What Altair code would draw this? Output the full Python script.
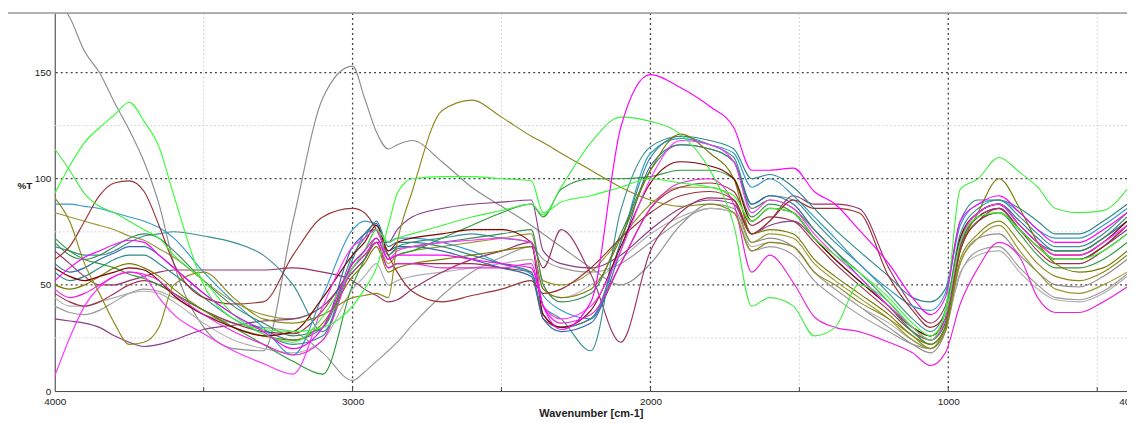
import altair as alt
import pandas as pd

# wavenumber grid (cm-1)
WN = [4000, 3950, 3900, 3850, 3800, 3750, 3700, 3650, 3600, 3500,
      3400, 3300, 3200, 3100, 3000, 2960, 2920, 2880, 2850, 2800,
      2700, 2600, 2500, 2400, 2360, 2300, 2200, 2100, 2000, 1900,
      1800, 1720, 1660, 1600, 1520, 1450, 1380, 1300, 1200, 1120,
      1060, 1010, 960, 900, 830, 760, 700, 640, 560, 480,
      400]

gray_a = [185, 176, 160, 150, 136, 123, 108, 88, 60, 30,
          20, 19, 80, 138, 153, 138, 122, 114, 116, 118,
          108, 96, 87, 78, 74, 68, 58, 50, 60, 78,
          88, 86, 70, 72, 68, 56, 48, 40, 30, 22,
          18, 28, 60, 72, 74, 64, 56, 50, 49, 54,
          62]
gray_b = [40, 37, 36, 38, 42, 46, 48, 47, 44, 36,
          32, 30, 28, 18, 5, 9, 14, 19, 23, 31,
          45, 56, 63, 68, 62, 58, 56, 60, 70, 80,
          86, 84, 66, 68, 64, 52, 44, 36, 28, 22,
          20, 30, 55, 66, 68, 58, 50, 44, 43, 47,
          55]
green_a = [93, 106, 117, 124, 130, 136, 127, 115, 92, 50,
           34, 29, 28, 30, 40, 48, 58, 78, 93, 100,
           101, 101, 100, 99, 84, 89, 92, 96, 100, 98,
           96, 92, 80, 86, 84, 72, 64, 56, 44, 32,
           26, 36, 70, 82, 84, 76, 68, 62, 62, 66,
           74]
green_b = [114, 104, 93, 87, 84, 80, 76, 72, 64, 52,
           36, 27, 23, 35, 58, 66, 76, 70, 72, 74,
           78, 82, 85, 88, 83, 96, 117, 129, 127, 121,
           104, 78, 40, 44, 40, 26, 30, 50, 42, 30,
           24, 38, 95, 100, 110, 103, 96, 86, 84, 85,
           95]
olive_a = [91, 80, 60, 46, 32, 22, 23, 30, 50, 56,
           44, 34, 32, 36, 44, 45, 46, 44, 70, 94,
           132, 137, 129, 120, 117, 112, 104, 96, 90, 87,
           88, 84, 66, 70, 68, 56, 50, 42, 34, 26,
           20, 28, 62, 74, 80, 70, 60, 54, 52, 56,
           64]
olive_b = [84, 82, 80, 78, 76, 73, 71, 67, 63, 52,
           42, 36, 34, 40, 56, 62, 70, 60, 64, 66,
           68, 70, 72, 74, 52, 50, 56, 72, 88, 96,
           96, 90, 70, 74, 72, 60, 52, 44, 34, 24,
           20, 30, 60, 72, 78, 66, 56, 48, 46, 50,
           56]
maroon_a = [62, 68, 80, 92, 98, 99, 94, 78, 60, 44,
            41, 42, 64, 82, 86, 84, 76, 64, 56, 47,
            42, 45, 48, 52, 46, 48, 58, 72, 84, 92,
            94, 90, 74, 80, 90, 86, 86, 84, 54, 38,
            30, 36, 66, 80, 84, 76, 68, 62, 62, 68,
            78]
maroon_b = [58, 54, 52, 54, 56, 58, 57, 52, 45, 36,
            30, 26, 28, 44, 64, 70, 78, 66, 70, 72,
            74, 76, 76, 70, 36, 30, 38, 68, 98, 108,
            106, 100, 80, 86, 84, 72, 62, 52, 40, 30,
            26, 34, 72, 84, 88, 78, 70, 64, 64, 70,
            80]
teal_a = [68, 66, 64, 64, 66, 70, 73, 74, 75, 73,
          70, 64, 50, 28, 62, 74, 76, 64, 68, 70,
          72, 74, 72, 70, 40, 34, 19, 85, 115, 120,
          116, 110, 88, 92, 90, 80, 70, 60, 46, 34,
          28, 38, 74, 86, 90, 82, 74, 68, 68, 74,
          84]
cyan_a = [88, 88, 87, 86, 84, 82, 80, 77, 72, 56,
          42, 30, 17, 45, 76, 80, 78, 70, 72, 72,
          70, 66, 60, 55, 45, 38, 34, 70, 112, 119,
          116, 112, 96, 100, 92, 82, 72, 60, 48, 40,
          38, 46, 78, 88, 90, 84, 76, 72, 72, 78,
          86]
magenta_a = [7, 25, 40, 49, 54, 56, 54, 44, 36, 27,
             19, 13, 8, 40, 68, 72, 76, 62, 66, 68,
             70, 71, 72, 70, 40, 34, 40, 66, 100, 118,
             116, 108, 84, 90, 86, 74, 64, 54, 40, 30,
             24, 34, 70, 84, 88, 78, 70, 64, 64, 70,
             78]
magenta_b = [52, 58, 63, 66, 69, 71, 70, 64, 58, 46,
             36, 28, 20, 30, 60, 66, 72, 62, 64, 64,
             64, 62, 60, 58, 40, 29, 42, 124, 149, 143,
             134, 124, 104, 104, 105, 94, 88, 76, 60, 44,
             36, 44, 80, 88, 92, 84, 76, 70, 70, 76,
             84]
magenta_c = [48, 44, 46, 50, 54, 56, 55, 52, 46, 36,
             28, 22, 17, 24, 58, 64, 70, 58, 60, 60,
             58, 58, 58, 60, 40, 32, 36, 60, 86, 98,
             100, 88, 56, 64, 51, 35, 30, 28, 23, 18,
             12, 18, 41, 58, 70, 63, 44, 37, 37, 42,
             49]
purple_a = [34, 33, 32, 30, 26, 23, 21, 22, 24, 29,
            31, 33, 34, 40, 56, 62, 70, 70, 76, 82,
            86, 88, 89, 90, 66, 60, 58, 64, 76, 86,
            90, 88, 74, 78, 80, 72, 62, 52, 40, 30,
            26, 34, 68, 82, 86, 76, 68, 62, 62, 68,
            76]
purple_b = [66, 60, 54, 50, 50, 52, 54, 56, 57, 57,
            57, 57, 58, 56, 52, 48, 45, 42, 43, 48,
            56, 62, 66, 70, 58, 76, 55, 23, 66, 84,
            91, 90, 74, 80, 92, 88, 88, 86, 58, 40,
            32, 40, 70, 82, 86, 76, 68, 62, 62, 68,
            78]
dkgreen_a = [72, 66, 62, 60, 58, 55, 53, 50, 46, 38,
             30, 22, 14, 8, 50, 62, 72, 62, 64, 66,
             72, 78, 84, 88, 82, 95, 100, 100, 101, 104,
             104, 100, 82, 88, 84, 72, 62, 52, 40, 28,
             22, 30, 66, 80, 84, 74, 64, 58, 58, 62,
             70]
dkgreen_b = [70, 64, 62, 64, 68, 72, 74, 72, 66, 52,
             40, 32, 26, 30, 60, 66, 76, 64, 67, 68,
             70, 72, 74, 76, 50, 42, 46, 74, 104, 116,
             114, 108, 86, 90, 86, 76, 66, 56, 42, 30,
             24, 32, 70, 84, 88, 78, 70, 66, 66, 72,
             82]
olive_c = [50, 48, 50, 54, 58, 60, 58, 54, 48, 38,
           30, 26, 24, 32, 54, 60, 68, 56, 58, 60,
           62, 64, 66, 68, 48, 44, 48, 72, 104, 121,
           112, 100, 74, 76, 74, 62, 54, 46, 36, 26,
           22, 30, 66, 84, 100, 86, 70, 60, 56, 58,
           66]
teal_b = [56, 52, 54, 58, 62, 64, 64, 60, 55, 44,
          34, 27, 22, 26, 64, 72, 80, 68, 70, 70,
          68, 64, 60, 56, 36, 30, 34, 70, 110, 120,
          118, 114, 100, 102, 96, 86, 76, 66, 54, 44,
          42, 48, 80, 90, 90, 86, 80, 74, 74, 80,
          88]
maroon_c = [46, 42, 40, 42, 46, 50, 52, 50, 46, 38,
            32, 28, 27, 38, 58, 64, 70, 58, 60, 60,
            60, 60, 58, 56, 34, 30, 34, 60, 86, 96,
            98, 94, 78, 82, 80, 70, 60, 50, 38, 28,
            24, 32, 68, 80, 86, 76, 66, 60, 60, 66,
            74]
gray_c = [44, 40, 40, 42, 44, 46, 47, 46, 42, 32,
          24, 20, 18, 24, 48, 54, 60, 50, 52, 54,
          56, 58, 60, 62, 48, 44, 50, 62, 74, 82,
          86, 84, 68, 70, 68, 56, 48, 40, 32, 24,
          20, 28, 56, 64, 66, 56, 48, 43, 42, 46,
          54]
blue_a = [60, 56, 58, 62, 65, 68, 68, 64, 58, 46,
          36, 29, 24, 30, 68, 74, 79, 66, 68, 68,
          66, 62, 58, 54, 34, 28, 32, 66, 106, 116,
          114, 108, 88, 92, 88, 76, 66, 54, 40, 28,
          22, 30, 72, 84, 88, 80, 72, 66, 66, 72,
          80]

SERIES = [
    ("gray_a", gray_a, "#8c8c8c"),
    ("gray_b", gray_b, "#9a9a9a"),
    ("gray_c", gray_c, "#b0b0b0"),
    ("olive_b", olive_b, "#9a9a30"),
    ("maroon_c", maroon_c, "#a0304a"),
    ("purple_a", purple_a, "#8a3a8a"),
    ("purple_b", purple_b, "#993366"),
    ("teal_a", teal_a, "#3a8f8f"),
    ("cyan_a", cyan_a, "#3399cc"),
    ("blue_a", blue_a, "#3366aa"),
    ("teal_b", teal_b, "#2f8888"),
    ("dkgreen_a", dkgreen_a, "#2f9a3a"),
    ("dkgreen_b", dkgreen_b, "#3c8c5a"),
    ("olive_c", olive_c, "#7a7a00"),
    ("maroon_a", maroon_a, "#993333"),
    ("maroon_b", maroon_b, "#800000"),
    ("magenta_a", magenta_a, "#ff33ff"),
    ("magenta_c", magenta_c, "#ee22dd"),
    ("olive_a", olive_a, "#8a8a1a"),
    ("green_a", green_a, "#33ff33"),
    ("green_b", green_b, "#44ee44"),
    ("magenta_b", magenta_b, "#ff00ff"),
]

rows = []
for k, (name, vals, _c) in enumerate(SERIES):
    for w, v in zip(WN, vals):
        rows.append({"wn": w, "T": v, "s": name, "k": k})
df = pd.DataFrame(rows)

X_MAJOR = [3000, 2000, 1000]
X_MINOR = [3500, 2500, 1500, 500]
Y_MAJOR = [50, 100, 150]
Y_MINOR = [25, 75, 125]
X_TICKS = [3500, 3000, 2500, 2000, 1500, 1000, 500]

W, H = 1078, 380
FONT = "Liberation Sans"
xs = alt.Scale(domain=[4000, 400], nice=False, zero=False)
ys = alt.Scale(domain=[0, 178], nice=False, zero=False)

minor_x = alt.Chart(pd.DataFrame({"wn": X_MINOR})).mark_rule(
    color="#d6d6d6", strokeDash=[2, 2], strokeWidth=1).encode(x=alt.X("wn:Q", scale=xs))
minor_y = alt.Chart(pd.DataFrame({"T": Y_MINOR})).mark_rule(
    color="#d6d6d6", strokeDash=[2, 2], strokeWidth=1).encode(y=alt.Y("T:Q", scale=ys))
major_x = alt.Chart(pd.DataFrame({"wn": X_MAJOR})).mark_rule(
    color="#444444", strokeDash=[2, 3], strokeWidth=1.3).encode(x=alt.X("wn:Q", scale=xs))
major_y = alt.Chart(pd.DataFrame({"T": Y_MAJOR})).mark_rule(
    color="#444444", strokeDash=[2, 3], strokeWidth=1.3).encode(y=alt.Y("T:Q", scale=ys))
ticks = alt.Chart(pd.DataFrame({"wn": X_TICKS})).mark_rule(
    color="#444444", strokeWidth=1).encode(
    x=alt.X("wn:Q", scale=xs), y=alt.value(H - 4), y2=alt.value(H))
frame = alt.Chart(pd.DataFrame({"a": [0]})).mark_rule(
    color="#9a9a9a", strokeWidth=1.5).encode(
    x=alt.value(-47), x2=alt.value(W), y=alt.value(0))

lines = alt.Chart(df).mark_line(
    strokeWidth=1.15, clip=True, interpolate="monotone").encode(
    x=alt.X("wn:Q", scale=xs,
            axis=alt.Axis(values=[4000, 3000, 2000, 1000, 400], format="d",
                          title="Wavenumber [cm-1]", grid=False, ticks=False,
                          labelFontSize=10, labelColor="#222", labelPadding=6,
                          titleFontSize=11, titleFontWeight="bold", titleColor="#222",
                          titlePadding=1, domainColor="#444", labelFont=FONT,
                          titleFont=FONT, labelOverlap=False, labelFlush=False)),
    y=alt.Y("T:Q", scale=ys,
            axis=alt.Axis(values=[0, 50, 100, 150], title="%T", grid=False, ticks=False,
                          labelFontSize=10, labelColor="#222", labelPadding=4,
                          titleAngle=0, titleX=-38, titleY=173, titleAlign="left",
                          titleBaseline="middle", titleFontSize=10,
                          titleFontWeight="bold", titleColor="#222",
                          domainColor="#444", labelFont=FONT, titleFont=FONT)),
    color=alt.Color("s:N", scale=alt.Scale(domain=[s[0] for s in SERIES],
                                           range=[s[2] for s in SERIES]), legend=None),
    order=alt.Order("k:Q"),
)

chart = alt.layer(minor_x, minor_y, major_x, major_y, lines, ticks, frame).properties(
    width=W, height=H,
    autosize=alt.AutoSizeParams(type="none"),
    padding={"left": 47, "top": 4, "right": 0, "bottom": 31},
).configure_view(stroke="#a8a8a8", strokeWidth=1.2).configure(background="white")

chart.save("out.html", embed_options={"renderer": "svg", "actions": False})
